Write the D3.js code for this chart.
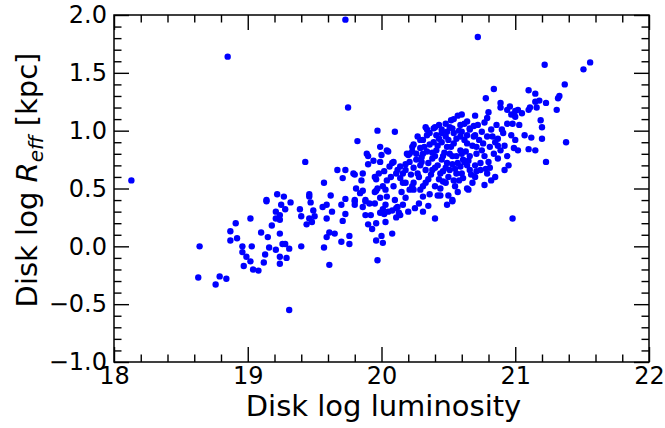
<!DOCTYPE html>
<html>
<head>
<meta charset="utf-8">
<script src="https://cdn.jsdelivr.net/npm/d3@7"></script>
<style>
  html, body { margin: 0; padding: 0; background: #fff; }
  svg { display: block; }
  text { font-family: "DejaVu Sans", sans-serif; fill: #000; }
</style>
</head>
<body>
<svg id="chart" width="665" height="428"></svg>
<script>
// ---- data ----
const diskLogLum = [
  18.13,18.85,19.73,19.75,19.43,19.97,19.82,19.89,19.90,19.94,19.90,19.67,19.73,19.79,19.80,19.86,19.71,19.85,19.95,19.96,
  19.57,19.81,19.86,19.95,19.84,19.22,19.27,19.46,19.46,19.62,19.14,19.73,19.80,19.88,18.63,18.64,18.76,18.79,18.84,18.87,
  18.87,18.91,18.92,18.96,18.96,18.99,18.97,19.02,19.03,19.02,19.04,19.08,19.10,19.13,19.12,19.14,19.15,19.16,19.18,19.21,
  19.21,19.21,19.24,19.24,19.24,19.25,19.24,19.24,19.26,19.28,19.28,19.29,19.32,19.31,19.31,19.39,19.40,19.40,19.44,19.47,
  19.48,19.49,19.50,19.46,19.56,19.59,19.59,19.57,19.59,19.61,19.61,19.63,19.65,19.70,19.70,19.71,19.73,19.76,19.76,19.80,
  19.80,19.86,19.88,19.88,19.90,19.91,19.92,19.93,19.96,19.96,19.97,19.95,19.96,
  20.98,20.01,20.00,20.08,20.40,20.31,20.20,20.11,20.49,20.53,20.57,20.77,20.65,20.35,20.28,20.31,20.36,20.42,20.44,20.50,
  20.23,20.16,20.02,20.05,20.13,20.11,20.53,20.12,
  20.72,21.22,21.51,21.56,21.37,21.33,21.32,21.31,21.23,21.18,21.15,21.10,21.15,21.16,21.11,21.10,21.05,21.02,21.00,20.99,
  20.97,21.00,21.19,21.20,21.20,21.38,21.23,21.15,21.10,21.12,21.07,21.03,20.98,20.94,20.84,20.78,20.89,20.89,20.96,20.94,
  20.80,20.70,20.60,20.57,20.54,
  20.10,19.99,20.05,20.00,19.99,20.08,20.06,20.02,20.33,20.34,20.31,20.23,20.21,20.16,20.18,20.11,20.26,20.24,20.28,20.31,
  20.64,20.85,20.79,20.81,20.92,20.95,20.87,20.94,20.89,20.92,20.87,20.91,20.82,20.86,20.77,20.72,20.66,20.62,20.59,20.51,
  20.48,20.45,20.41,20.40,20.49,20.54,20.64,20.71,20.76,20.81,20.66,20.61,20.56,20.51,20.45,20.40,20.74,20.74,20.66,20.59,
  20.51,20.44,20.38,20.46,20.54,20.61,20.70,20.56,20.64,20.71,20.77,20.79,20.70,20.62,20.54,20.48,20.36,20.29,20.31,20.35,
  20.29,20.21,20.19,20.16,20.24,20.09,20.01,20.10,20.03,20.18,20.25,20.08,20.14,20.03,20.21,20.29,20.44,20.48,19.98,19.97,
  20.03,20.04,19.99,20.01,19.99,20.52,20.43,20.39,20.34,20.45,20.49,20.53,20.59,20.64,20.66,20.60,20.69,20.56,20.50,20.45,
  20.39,20.24,20.23,20.20,20.29,20.34,20.41,20.53,20.59,20.62,20.49,20.38,20.30,20.33,20.46,20.60,20.71,20.24,20.18,20.14,
  20.04,20.09,20.14,20.04,20.79,20.90,20.97,21.00,20.99,21.02,20.87,
  20.27,20.35,20.42,20.47,20.52,20.57,20.63,20.68,20.73,20.75,20.83,20.84,20.80,20.67,20.58,20.50,20.43,20.37,20.32,20.36,
  20.43,20.58,20.64,20.69,20.55,20.48,20.40,20.26,20.18,20.12,20.07,20.27,20.42,20.53,20.65,20.75,20.85,20.78,20.70,20.60,
  20.46,20.38,20.30,20.22,20.15,20.33,20.40,20.55,20.68,20.82
];
const diskLogReff = [
  0.57,1.64,1.96,1.20,0.73,1.00,0.91,0.80,0.78,0.74,0.71,0.66,0.66,0.63,0.62,0.63,0.59,0.57,0.60,0.58,
  0.55,0.50,0.48,0.47,0.46,0.45,0.43,0.45,0.43,0.44,0.40,0.41,0.40,0.40,-0.27,0.00,-0.33,-0.26,-0.28,0.13,
  0.05,0.20,0.07,0.00,-0.05,-0.09,-0.17,0.24,0.00,-0.13,-0.20,-0.21,0.12,-0.07,-0.14,0.39,0.08,-0.01,0.18,0.30,
  -0.03,0.24,0.23,0.27,0.11,0.36,-0.09,-0.15,0.02,0.02,0.32,-0.10,0.38,-0.02,-0.55,0.32,0.26,0.00,0.19,0.38,
  0.21,0.31,0.26,0.24,0.34,0.36,0.24,-0.01,0.08,0.12,-0.16,0.30,0.11,0.36,0.04,0.22,0.28,0.09,0.02,0.39,
  0.36,0.34,0.39,0.27,0.19,0.37,0.27,0.15,0.20,0.05,-0.12,0.37,0.48,
  0.24,0.03,0.09,0.11,0.24,0.30,0.30,0.25,0.36,0.39,0.47,0.53,0.49,0.35,0.37,0.43,0.45,0.44,0.44,0.44,
  0.52,0.36,0.28,0.30,0.29,0.33,0.40,0.34,
  1.81,1.57,1.53,1.59,1.40,1.30,1.28,1.18,1.24,1.26,1.32,1.35,1.25,1.20,1.20,1.18,1.15,1.18,1.17,1.14,
  1.14,1.12,1.09,1.03,0.93,0.90,0.73,0.83,0.84,0.94,0.96,1.05,1.06,1.06,1.36,1.28,1.24,1.20,1.21,1.18,
  1.16,1.13,1.14,1.13,1.10,
  0.99,0.86,0.82,0.79,0.73,0.72,0.69,0.65,1.03,1.01,0.92,0.86,0.80,0.63,0.66,0.63,0.75,0.68,0.60,0.52,
  0.50,0.60,0.63,0.68,0.66,0.70,0.76,0.78,0.83,0.87,0.93,0.98,1.01,1.05,1.07,1.05,1.01,1.06,0.95,1.03,
  1.06,1.01,0.96,1.03,0.86,0.89,0.89,0.86,0.89,0.86,0.78,0.75,0.78,0.80,0.75,0.78,0.72,0.66,0.66,0.69,
  0.66,0.63,0.66,0.56,0.57,0.59,0.60,0.63,0.70,0.80,0.78,0.95,0.96,0.92,0.98,0.95,0.98,0.92,0.80,0.72,
  0.70,0.73,0.80,0.55,0.55,0.52,0.52,0.40,0.36,0.42,0.33,0.31,0.27,0.21,0.49,0.49,0.50,0.55,0.63,0.50,
  0.49,0.43,0.42,0.32,0.29,1.09,1.05,1.02,0.96,0.98,0.99,1.02,1.05,1.08,1.02,0.99,0.95,0.93,0.92,0.90,
  0.90,0.88,0.82,0.79,0.85,0.82,0.83,0.78,0.83,0.73,0.72,0.76,0.73,0.66,0.65,0.63,0.65,0.49,0.55,0.59,
  0.57,0.73,0.69,0.83,1.11,1.01,0.96,0.92,0.85,0.83,0.87,
  0.63,0.58,0.70,0.81,0.86,0.72,0.82,0.87,0.92,0.99,0.95,0.80,0.73,0.62,0.57,0.60,0.58,0.62,0.86,0.88,
  0.93,1.00,0.96,1.04,0.67,0.68,0.68,0.80,0.71,0.66,0.60,0.95,0.87,0.71,0.74,0.83,0.90,0.67,0.70,0.80,
  0.78,0.81,0.77,0.62,0.47,0.55,0.52,0.52,0.55,0.57
];
const xTickValues = [18, 19, 20, 21, 22];
const yTickValues = [-1.0, -0.5, 0.0, 0.5, 1.0, 1.5, 2.0];
const xMinorTicks = d3.range(18, 22.001, 0.2).map(v => +v.toFixed(1));
const yMinorTicks = d3.range(-1, 2.001, 0.1).map(v => +v.toFixed(1));
const xLabel = "Disk log luminosity";

// ---- layout ----
const W = 665, H = 428;
const m = { left: 114, right: 16, top: 15, bottom: 66 };
const svg = d3.select("#chart");
const x = d3.scaleLinear().domain([18, 22]).range([m.left, W - m.right]);
const y = d3.scaleLinear().domain([-1, 2]).range([H - m.bottom, m.top]);

// points
svg.append("g").selectAll("circle")
  .data(diskLogLum.map((v, i) => [v, diskLogReff[i]]))
  .join("circle")
  .attr("cx", d => x(d[0]))
  .attr("cy", d => y(d[1]))
  .attr("r", 3.2)
  .attr("fill", "#0000ff");

const fmtY = d => d3.format(".1f")(d).replace("-", "\u2212");
const majorLen = 15, minorLen = 7.5;

function styleAxis(g) {
  g.selectAll(".domain").remove();
  g.selectAll("line").attr("stroke", "#000").attr("stroke-width", 1.4);
}

// minor ticks (all four sides)
const xm = xMinorTicks.filter(v => !xTickValues.includes(v));
const ym = yMinorTicks.filter(v => !yTickValues.map(t => +t.toFixed(1)).includes(v));
svg.append("g").attr("transform", `translate(0,${y(-1)})`)
  .call(d3.axisBottom(x).tickValues(xm).tickSize(-minorLen).tickFormat("")).call(styleAxis);
svg.append("g").attr("transform", `translate(0,${y(2)})`)
  .call(d3.axisTop(x).tickValues(xm).tickSize(-minorLen).tickFormat("")).call(styleAxis);
svg.append("g").attr("transform", `translate(${x(18)},0)`)
  .call(d3.axisLeft(y).tickValues(ym).tickSize(-minorLen).tickFormat("")).call(styleAxis);
svg.append("g").attr("transform", `translate(${x(22)},0)`)
  .call(d3.axisRight(y).tickValues(ym).tickSize(-minorLen).tickFormat("")).call(styleAxis);

// major ticks
const gx = svg.append("g").attr("transform", `translate(0,${y(-1)})`)
  .call(d3.axisBottom(x).tickValues(xTickValues).tickSize(-majorLen).tickPadding(5).tickFormat(d3.format("d")))
  .call(styleAxis);
gx.selectAll("text").attr("font-size", 24).attr("font-family", "DejaVu Sans");
svg.append("g").attr("transform", `translate(0,${y(2)})`)
  .call(d3.axisTop(x).tickValues(xTickValues).tickSize(-majorLen).tickFormat("")).call(styleAxis);
const gy = svg.append("g").attr("transform", `translate(${x(18)},0)`)
  .call(d3.axisLeft(y).tickValues(yTickValues).tickSize(-majorLen).tickPadding(7).tickFormat(fmtY))
  .call(styleAxis);
gy.selectAll("text").attr("font-size", 24).attr("font-family", "DejaVu Sans");
svg.append("g").attr("transform", `translate(${x(22)},0)`)
  .call(d3.axisRight(y).tickValues(yTickValues).tickSize(-majorLen).tickFormat("")).call(styleAxis);

// frame
svg.append("rect")
  .attr("x", x(18)).attr("y", y(2))
  .attr("width", x(22) - x(18)).attr("height", y(-1) - y(2))
  .attr("fill", "none").attr("stroke", "#000").attr("stroke-width", 1.5);

// axis labels
svg.append("text")
  .attr("x", (x(18) + x(22)) / 2 + 2).attr("y", 416)
  .attr("text-anchor", "middle").attr("font-size", 29)
  .text(xLabel);

const yl = svg.append("text")
  .attr("transform", `translate(37,180) rotate(-90)`)
  .attr("text-anchor", "middle").attr("font-size", 29);
yl.append("tspan").text("Disk log ");
yl.append("tspan").attr("font-style", "italic").text("R");
yl.append("tspan").attr("font-style", "italic").attr("font-size", 20).attr("dy", 6).text("eff");
yl.append("tspan").attr("dy", -6).text(" [kpc]");
</script>
</body>
</html>
